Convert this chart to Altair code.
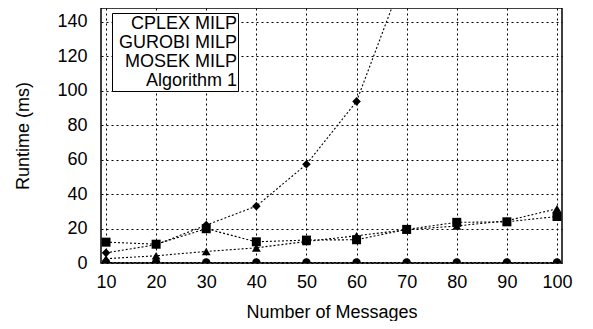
import altair as alt
import pandas as pd

messages = [10, 20, 30, 40, 50, 60, 70, 80, 90, 100]
cplex = [12.1, 10.9, 19.9, 12.3, 13.3, 13.5, 19.5, 23.6, 23.9, 27.0]
gurobi = [2.5, 4.2, 6.7, 8.8, 12.5, 15.8, 19.3, 21.5, 24.5, 31.5]
mosek = [5.9, 10.6, 22.0, 33.0, 57.3, 93.8, 171.0]
alg1 = [0.3, 0.3, 0.3, 0.3, 0.3, 0.3, 0.3, 0.3, 0.3, 0.3]

series = ["CPLEX MILP", "GUROBI MILP", "MOSEK MILP", "Algorithm 1"]
values = [cplex, gurobi, mosek, alg1]

rows = []
for name, vals in zip(series, values):
    for i, v in enumerate(vals):
        rows.append({"n": messages[i], "t": v, "s": name})
df = pd.DataFrame(rows)

FONT = "Liberation Sans"

# legend sample drawn to the right of the label: a line with the marker in the middle
C = 5.25
markers = [
    f"M{C - 0.17:.2f},-0.17H{C + 0.17:.2f}V0.17H{C - 0.17:.2f}Z",
    f"M{C:.2f},-0.19L{C + 0.19:.2f},0.14H{C - 0.19:.2f}Z",
    f"M{C:.2f},-0.19L{C + 0.15:.2f},0L{C:.2f},0.19L{C - 0.15:.2f},0Z",
    f"M{C + 0.17:.2f},0A0.17,0.17,0,1,1,{C - 0.17:.2f},0A0.17,0.17,0,1,1,{C + 0.17:.2f},0Z",
]
legend_paths = [f"M{C - 1:.2f},0H{C + 1:.2f}" + m for m in markers]

x_enc = alt.X("n:Q", title="Number of Messages",
              scale=alt.Scale(domain=[9, 101], nice=False, zero=False),
              axis=alt.Axis(values=messages, grid=True, ticks=False, domain=False,
                            labelFontSize=18, labelPadding=10, titleFontSize=18,
                            titleFontWeight="normal", titlePadding=12, labelFlush=False,
                            labelOverlap=False))
y_enc = alt.Y("t:Q", title="Runtime (ms)",
              scale=alt.Scale(domain=[0, 148], nice=False),
              axis=alt.Axis(values=[0, 20, 40, 60, 80, 100, 120, 140], grid=True, ticks=False,
                            domain=False, labelFontSize=18, labelPadding=14, labelOverlap=False,
                            titleFontSize=18, titleFontWeight="normal", titlePadding=24))

lines = alt.Chart(df).mark_line(color="black", strokeWidth=1.1, strokeDash=[2, 2], clip=True).encode(
    x=x_enc, y=y_enc, detail="s:N", order="n:Q"
)

points = alt.Chart(df).mark_point(filled=True, color="black", opacity=1, clip=True).encode(
    x=x_enc, y=y_enc,
    shape=alt.Shape("s:N", scale=alt.Scale(domain=series,
                    range=["square", "triangle-up", "diamond", "circle"]), legend=None),
    size=alt.Size("s:N", scale=alt.Scale(domain=series, range=[81, 70, 60, 70]), legend=None),
)

legend_layer = alt.Chart(df).transform_filter("false").mark_point(
    filled=True, color="black", stroke="black", strokeWidth=1, strokeDash=[2, 2], opacity=1
).encode(
    x=x_enc, y=y_enc,
    shape=alt.Shape("s:N", scale=alt.Scale(domain=series, range=legend_paths),
                    legend=alt.Legend(
                        orient="none", legendX=11, legendY=5, title=None,
                        padding=1, strokeColor="black", fillColor="white", cornerRadius=0,
                        clipHeight=19, rowPadding=0, symbolOffset=0, labelOffset=71,
                        labelAlign="right", labelFontSize=18, labelFont=FONT, labelColor="black",
                        symbolSize=2704, symbolStrokeWidth=1, symbolStrokeColor="black",
                        symbolFillColor="black", symbolDash=[2, 2], labelLimit=300,
                        symbolOpacity=1,
                    )),
)

chart = alt.layer(lines, points, legend_layer).resolve_scale(shape="independent").properties(
    width=461, height=255,
    autosize=alt.AutoSizeParams(type="none"),
    padding={"left": 93, "top": 0, "right": 22, "bottom": 58},
).configure_view(
    stroke="black", strokeWidth=1.5
).configure_axis(
    labelFont=FONT, titleFont=FONT, labelColor="black", titleColor="black",
    gridColor="black", gridDash=[2, 3], gridWidth=1, gridOpacity=1
)

chart.save("out.html", embed_options={"renderer": "svg", "actions": False})
